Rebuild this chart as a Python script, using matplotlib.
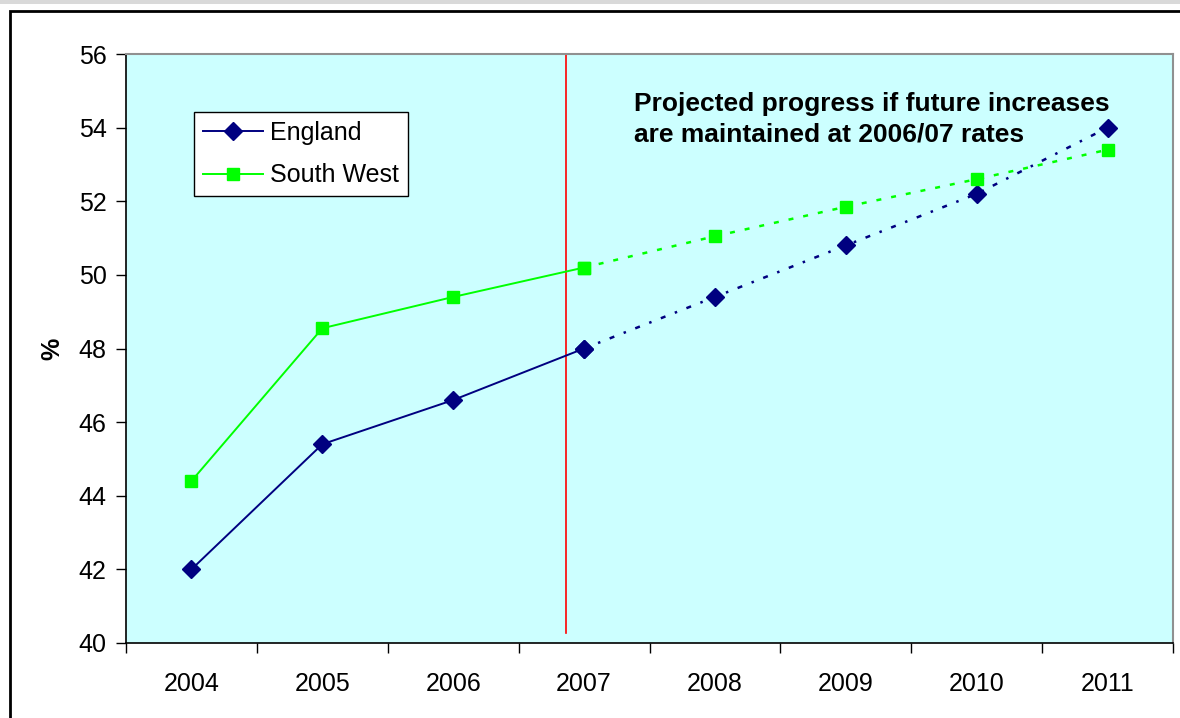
import numpy as np
import matplotlib
matplotlib.use('Agg')
import matplotlib.pyplot as plt
from matplotlib.patches import Rectangle

plt.rcParams['font.family'] = ['Liberation Sans', 'DejaVu Sans']

# data
years = ['2004', '2005', '2006', '2007', '2008', '2009', '2010', '2011']
england = [42.0, 45.4, 46.6, 48.0, 49.4, 50.8, 52.2, 54.0]
south_west = [44.4, 48.55, 49.4, 50.2, 51.05, 51.85, 52.6, 53.4]
n_actual = 4  # 2004-2007 actual, rest projected

navy = '#000080'
lime = '#00ff00'

fig = plt.figure(figsize=(11.8, 7.18), dpi=100)
fig.patch.set_facecolor('white')

# grey strip at the top and the outer frame
fig.patches.append(Rectangle((0, 1 - 4 / 718), 1, 4 / 718, transform=fig.transFigure,
                             facecolor='#d9d9d9', edgecolor='none', zorder=0))
fig.patches.append(Rectangle((10 / 1180, -0.1), 1.1, 1.1 - 11 / 718, transform=fig.transFigure,
                             facecolor='none', edgecolor='black', linewidth=2, zorder=1))

ax = fig.add_axes([126 / 1180, 1 - 643 / 718, 1047 / 1180, 589 / 718])
ax.set_facecolor('#ccffff')

x = np.arange(len(years))

# actual part (solid)
ax.plot(x[:n_actual], england[:n_actual], color=navy, lw=1.4, marker='D', ms=9,
        mfc=navy, mec=navy, label='England', zorder=4)
ax.plot(x[:n_actual], south_west[:n_actual], color=lime, lw=1.4, marker='s', ms=9,
        mfc=lime, mec=lime, label='South West', zorder=4)
# projected part (dotted)
ax.plot(x[n_actual - 1:], england[n_actual - 1:], color=navy, lw=1.8,
        linestyle=(0, (2, 4, 1, 4)), marker='D', ms=9, mfc=navy, mec=navy, zorder=3)
ax.plot(x[n_actual - 1:], south_west[n_actual - 1:], color=lime, lw=1.8,
        linestyle=(0, (2, 4)), marker='s', ms=9, mfc=lime, mec=lime, zorder=3)

# red divider between actual and projected
ax.plot([2.86, 2.86], [40.27, 56], color='red', lw=1.2, zorder=2)

ax.set_xlim(-0.5, len(years) - 0.5)
ax.set_ylim(40, 56)
ax.set_yticks(np.arange(40, 57, 2))
ax.set_xticks(np.arange(-0.5, len(years), 1))
ax.set_xticklabels([])
ax.set_xticks(x, minor=True)
ax.set_xticklabels(years, minor=True)
ax.tick_params(axis='x', which='major', direction='out', length=7, width=1)
ax.tick_params(axis='x', which='minor', length=0, pad=21, labelsize=18)
ax.tick_params(axis='y', direction='out', length=7, width=1, pad=7, labelsize=18)

for s in ['left', 'bottom']:
    ax.spines[s].set_color('black')
    ax.spines[s].set_linewidth(1.2)
for s in ['top', 'right']:
    ax.spines[s].set_color('#909090')
    ax.spines[s].set_linewidth(1.5)

ax.set_ylabel('%', fontsize=18, fontweight='bold', labelpad=10)

leg = ax.legend(loc='upper left', bbox_to_anchor=(68 / 1047, 1 - 58 / 589), fontsize=18,
                frameon=True, fancybox=False, edgecolor='black', facecolor='white',
                framealpha=1, borderpad=0.35, handlelength=2.4, labelspacing=0.75,
                handletextpad=0.3, borderaxespad=0)
leg.get_frame().set_linewidth(1.0)

ax.text(508 / 1047, 1 - 38 / 589, 'Projected progress if future increases\nare maintained at 2006/07 rates',
        transform=ax.transAxes, fontsize=19, fontweight='bold', va='top', ha='left',
        linespacing=1.35)

fig.savefig('out.png', dpi=100)
